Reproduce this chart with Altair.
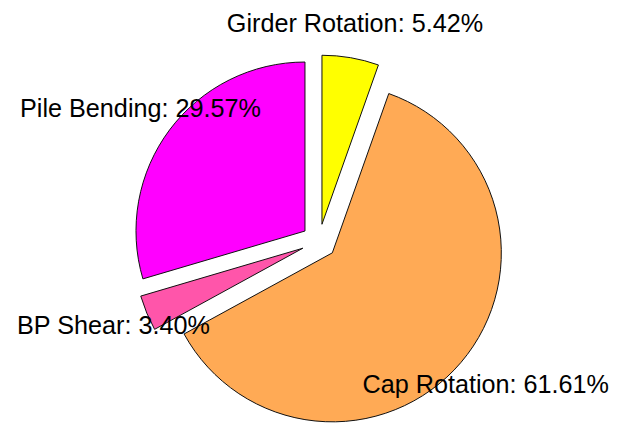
import altair as alt
import pandas as pd

categories = ["Girder Rotation", "Cap Rotation", "BP Shear", "Pile Bending"]
values = [5.42, 61.61, 3.40, 29.57]
colors = ["#FFFF00", "#FFAA55", "#FF55AA", "#FF00FF"]

df = pd.DataFrame({"cat": categories, "val": values, "idx": list(range(len(categories)))})

CX, CY = 311, 233.5
R = 169
EXPLODE = 17.5
LABEL_R = 221

base = (
    alt.Chart(df)
    .transform_window(cum="sum(val)", sort=[alt.SortField("idx")], frame=[None, 0])
    .transform_joinaggregate(total="sum(val)")
    .transform_calculate(
        start="(datum.cum - datum.val) / datum.total * 2 * PI",
        end="datum.cum / datum.total * 2 * PI",
        mid="(datum.cum - datum.val / 2) / datum.total * 2 * PI",
    )
    .transform_calculate(
        ax=f"{CX} + {EXPLODE} * sin(datum.mid)",
        ay=f"{CY} - {EXPLODE} * cos(datum.mid)",
        tx=f"{CX} + {LABEL_R} * sin(datum.mid) - 1.5",
        ty=f"{CY} - {LABEL_R} * cos(datum.mid)",
        label="datum.cat + ': ' + format(datum.val, '.2f') + '%'",
    )
)

arcs = base.mark_arc(outerRadius=R, stroke="#111111", strokeWidth=1).encode(
    x=alt.X("ax:Q", scale=None, axis=None),
    y=alt.Y("ay:Q", scale=None, axis=None),
    theta=alt.Theta("start:Q", scale=None),
    theta2="end:Q",
    color=alt.Color("cat:N", scale=alt.Scale(domain=categories, range=colors), legend=None),
)

labels = base.mark_text(
    font="Liberation Sans", fontSize=25.2, align="center", baseline="middle", color="black"
).encode(
    x=alt.X("tx:Q", scale=None, axis=None),
    y=alt.Y("ty:Q", scale=None, axis=None),
    text="label:N",
)

chart = (
    alt.layer(arcs, labels)
    .properties(width=601, height=416, autosize="none", padding=0, background="white")
    .configure_view(stroke=None)
)

chart.save("out.html", embed_options={"renderer": "svg", "actions": False})
